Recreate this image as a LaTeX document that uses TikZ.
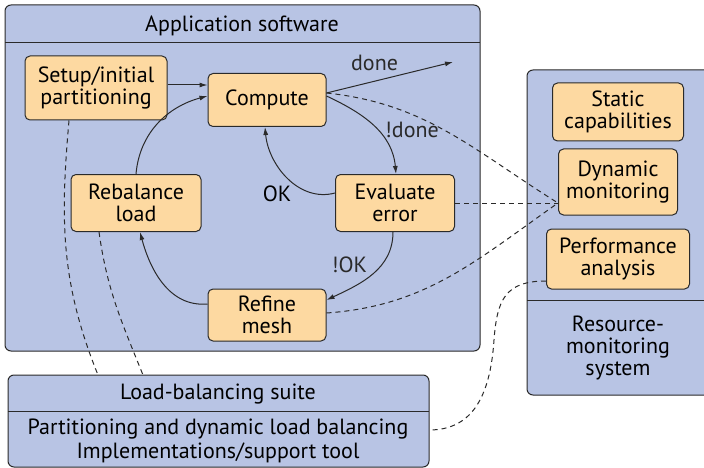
\documentclass[tikz,border=0pt]{standalone}
\usepackage{fontspec}
\setmainfont{PT Sans}
\usetikzlibrary{arrows.meta}
\definecolor{panel}{HTML}{B8C4E4}
\definecolor{stagefill}{HTML}{FDD9A1}
\definecolor{edge}{HTML}{2A2A2A}
\tikzset{
  stage/.style={draw=edge, fill=stagefill, rounded corners=5pt, align=center, inner sep=0pt,
    font=\fontsize{22}{22}\selectfont},
  panelbox/.style={draw=edge, fill=panel, rounded corners=6pt},
  link/.style={edge, -{Latex[length=8pt,width=5pt]}},
  probe/.style={edge, dash pattern=on 5pt off 4pt},
}
\begin{document}
\begin{tikzpicture}[x=1pt,y=-1pt,line width=1pt,font=\fontsize{22}{22}\selectfont]
  \useasboundingbox (0,0) rectangle (704,468);
  % panels
  \filldraw[panelbox] (5,5) rectangle (480,351);
  \draw[edge] (5,43) -- (480,43);
  \node (app) at (242,26) {Application software};
  \filldraw[panelbox] (527,70) rectangle (716,395);
  \draw[edge] (527,300) -- (716,300);
  \node[align=center] (rms) at (618,348) {Resource-\\monitoring\\system};
  \filldraw[panelbox] (8,375) rectangle (429,467);
  \draw[edge] (8,411) -- (429,411);
  \coordinate (lbtop) at (218,375);
  \coordinate (lbright) at (429,430);
  \node (suite) at (218,394) {Load-balancing suite};
  \node[align=center] (impl) at (218,441) {Partitioning and dynamic load balancing\\[2pt]Implementations/support tool};
  % stages
  \node[stage, minimum width=142, minimum height=64] (setup) at (96,88) {Setup/initial\\partitioning};
  \node[stage, minimum width=118, minimum height=53] (compute) at (267,100) {Compute};
  \node[stage, minimum width=130, minimum height=57] (rebalance) at (136,203) {Rebalance\\load};
  \node[stage, minimum width=119, minimum height=57] (evaluate) at (395,203) {Evaluate\\error};
  \node[stage, minimum width=118, minimum height=52] (refine) at (267,315) {Refine\\mesh};
  \node[stage, minimum width=131, minimum height=58] (static) at (618,112) {Static\\capabilities};
  \node[stage, minimum width=119, minimum height=66] (dynamic) at (618,182) {Dynamic\\monitoring};
  \node[stage, minimum width=143, minimum height=60] (perf) at (618,259) {Performance\\analysis};
  \coordinate (exit) at (453,62);
  \coordinate (tap) at ([yshift=-21pt]dynamic.west);
  % loop
  \draw[link] ([yshift=3pt]setup.east) -- ([yshift=3pt]setup.east -| compute.west);
  \draw[link] ([yshift=7pt]compute.east) -- node[pos=0.38, above=7pt] {done} (exit);
  \draw[link] ([yshift=4pt]compute.east) to[out=-25, in=95] node[pos=0.55, right=4pt] {!done} ([xshift=1pt]evaluate.north);
  \draw[link] ([yshift=10pt]evaluate.west) to[out=195, in=-85] ([xshift=-2pt]compute.south);
  \node (ok) at (277,194) {OK};
  \draw[link] ([xshift=-2pt]evaluate.south) to[out=-90, in=25] node[pos=0.45, left=5pt, yshift=6pt] {!OK} ([yshift=15pt]refine.east);
  \draw[link] ([yshift=11pt]refine.west) to[out=185, in=-75] ([xshift=4pt]rebalance.south);
  \draw[link] (rebalance.north) to[out=85, in=195] ([yshift=4pt]compute.west);
  % monitoring and balancing links
  \draw[probe] ([xshift=-27pt]setup.south) to[out=-95, in=112] (98,0 |- lbtop);
  \draw[probe] ([xshift=-37pt]rebalance.south) to[out=-82, in=112] (143,0 |- lbtop);
  \draw[probe] ([yshift=7pt]compute.east) to[out=-6, in=148] (tap);
  \draw[probe] (evaluate.east) -- (tap);
  \draw[probe] ([yshift=2pt]refine.east) to[out=4, in=-145] (tap);
  \draw[probe] ([yshift=-22pt]perf.west) .. controls (505,281) and (497,300) .. (494,340)
    .. controls (490,400) and (470,430) .. (lbright);
\end{tikzpicture}
\end{document}
